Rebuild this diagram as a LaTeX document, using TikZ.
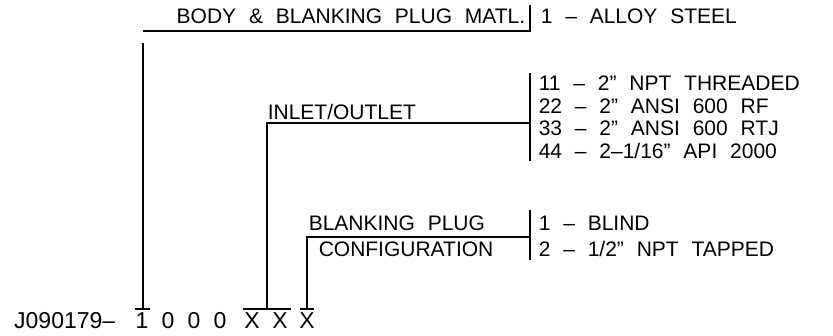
\documentclass[tikz,border=0pt]{standalone}
\usepackage{fontspec}
\setmainfont{Liberation Sans}[WordSpace=2.2]
\usetikzlibrary{positioning}

\begin{document}
\begin{tikzpicture}[x=1pt, y=-1pt, line width=1.5pt,
  font=\fontsize{21}{25}\selectfont,
  lbl/.style={inner sep=0pt, anchor=base west},
  code/.style={inner sep=0pt, anchor=base, font=\fontsize{23}{27}\selectfont}]
  \useasboundingbox (0,0) rectangle (833,335);
  % part number
  \node[code, anchor=base east] (pre) at (116,328) {J090179–};
  \node[code] (d1) at (142,328) {1};
  \node[code] (d2) at (168,328) {0};
  \node[code] (d3) at (194,328) {0};
  \node[code] (d4) at (220,328) {0};
  \node[code] (x1) at (252,328) {X};
  \node[code] (x2) at (280,328) {X};
  \node[code] (x3) at (307,328) {X};
  % body & blanking plug material
  \node[lbl, anchor=base east] (matl) at (526,23) {BODY \& BLANKING PLUG MATL.};
  \node[lbl] (alloy) at (540,23) {1 – ALLOY STEEL};
  \coordinate (matlT) at (530,5);
  \coordinate (matlR) at (530,31);
  \coordinate (matlL) at (143,31);
  \coordinate (matlS) at (143,43);
  \coordinate (matlB) at (143,309);
  \draw (matlT) -- (matlR) -- (matlL);
  \draw (matlS) -- (matlB);
  \draw ([xshift=-8pt]matlB) -- ([xshift=7pt]matlB);
  % inlet / outlet
  \node[lbl] (inout) at (267,119) {INLET/OUTLET};
  \node[lbl] (io11) at (538,90.5) {11 – 2” NPT THREADED};
  \node[lbl] (io22) at (538,113) {22 – 2” ANSI 600 RF};
  \node[lbl] (io33) at (538,135.5) {33 – 2” ANSI 600 RTJ};
  \node[lbl] (io44) at (538,158) {44 – 2–1/16” API 2000};
  \coordinate (ioT) at (530,73);
  \coordinate (ioB) at (530,161);
  \coordinate (ioR) at (530,123);
  \coordinate (ioL) at (267,123);
  \coordinate (ioS) at (267,309);
  \draw (ioT) -- (ioB);
  \draw (ioR) -- (ioL) -- (ioS);
  \draw (243,309) -- (291,309);
  % blanking plug configuration
  \node[lbl] (blank) at (308,230) {BLANKING PLUG};
  \node[lbl] (config) at (318,256) {CONFIGURATION};
  \node[lbl] (blind) at (538,230) {1 – BLIND};
  \node[lbl] (tapped) at (538,256) {2 – 1/2” NPT TAPPED};
  \coordinate (bpT) at (530,210);
  \coordinate (bpB) at (530,260);
  \coordinate (bpR) at (530,237);
  \coordinate (bpL) at (307,237);
  \coordinate (bpS) at (307,309);
  \draw (bpT) -- (bpB);
  \draw (bpR) -- (bpL) -- (bpS);
  \draw (300,309) -- (314,309);
\end{tikzpicture}
\end{document}
